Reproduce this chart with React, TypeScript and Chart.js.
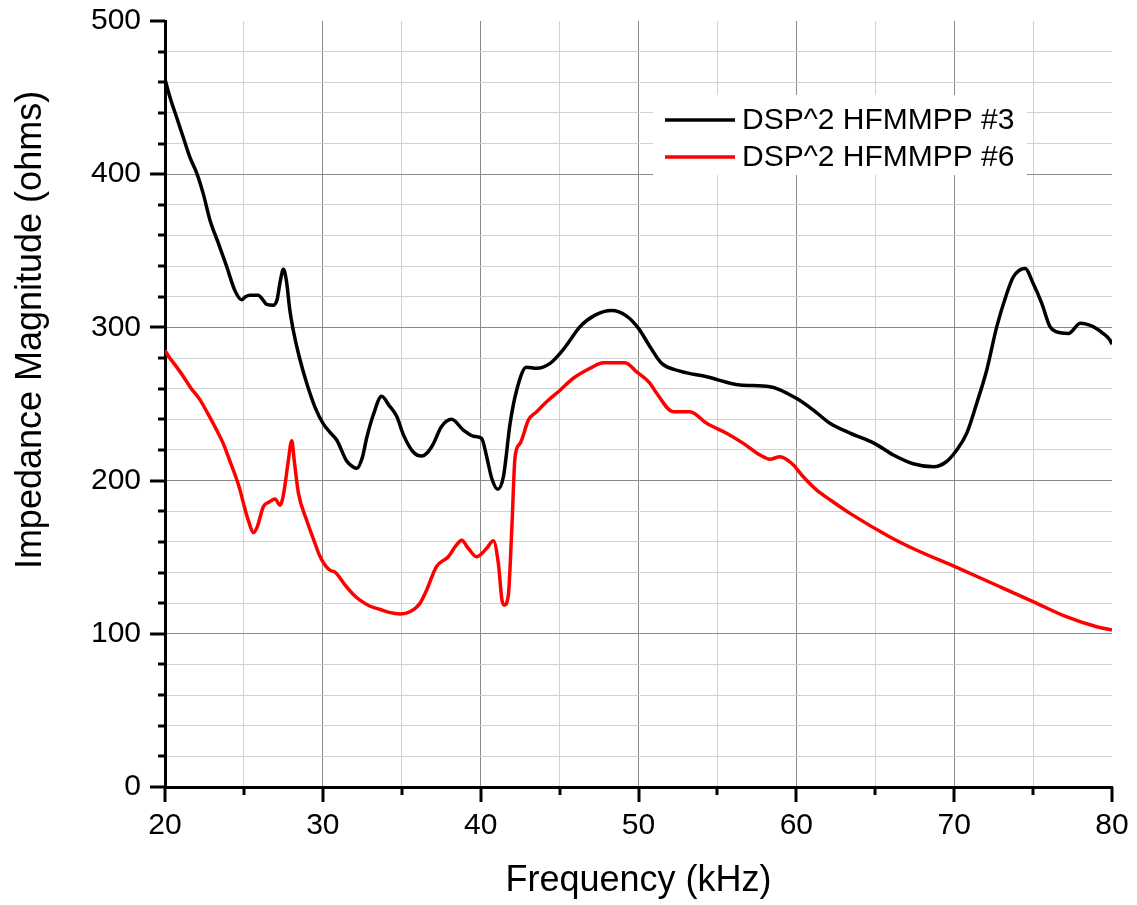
import React, { useEffect, useRef } from "react";
import { Chart, registerables } from "chart.js";

Chart.register(...registerables);

// ---- Data ----
const seriesLabels = ["DSP^2 HFMMPP #3", "DSP^2 HFMMPP #6"];

const freq3 = [
  20.0, 20.32, 20.74, 21.16, 21.58, 22.0, 22.43, 22.85, 23.38, 23.9, 24.43, 24.86, 25.1, 25.39, 25.9, 26.2,
  26.44, 26.86, 27.1, 27.3, 27.5, 27.7, 27.9, 28.13, 28.5, 28.98, 29.5, 30.03, 30.5, 30.88, 31.5, 31.9,
  32.15, 32.5, 32.78, 33.2, 33.73, 34.2, 34.68, 35.1, 35.7, 36.26, 36.6, 37.0, 37.5, 38.16, 38.9, 39.54,
  40.06, 40.38, 40.7, 41.08, 41.44, 41.86, 42.28, 42.9, 43.55, 44.4, 45.03, 45.45, 46.3, 47.25, 48.3, 49.25,
  50.0, 50.73, 51.47, 52.63, 54.32, 56.43, 58.33, 60.0, 61.08, 62.13, 63.4, 65.0, 66.15, 67.4, 68.7, 69.5,
  70.16, 70.8, 71.43, 72.06, 72.7, 73.33, 73.75, 74.49, 75.0, 75.55, 76.07, 76.5, 77.24, 78.0, 78.8, 79.45,
  79.87, 80.0,
];
const imp3 = [
  462, 450, 437, 424, 411, 401, 387, 370, 355, 340, 324, 318, 320, 321, 321, 318,
  315, 314.5, 318, 330, 338, 330, 312, 298, 281, 263.5, 248, 237, 231, 226.5, 213, 209,
  208, 215, 228, 243, 255, 249, 242, 230, 219, 216, 218, 224, 235, 240, 233, 229,
  227.6, 215.6, 201.5, 194.3, 202.5, 237, 259, 274, 273.3, 276.5, 283, 288.5, 300.5, 308, 311, 307.4,
  299.4, 287.4, 276.5, 271.5, 267.8, 262.4, 261.3, 253.7, 246, 237.4, 231, 224, 216.7, 211, 209, 212.3,
  220, 231, 250.5, 272, 300.5, 322, 333, 338.5, 328.8, 315.7, 300.5, 297, 296, 302.7, 300.5, 296,
  291.8, 289,
];

const freq6 = [
  20.0, 20.3, 20.6, 21.16, 21.6, 22.2, 22.7, 23.27, 23.7, 24.1, 24.5, 24.75, 25.0, 25.28, 25.6, 25.85,
  26.23, 26.6, 26.97, 27.29, 27.45, 27.6, 27.8, 28.03, 28.2, 28.45, 28.98, 29.4, 29.8, 30.2, 30.45, 30.8,
  31.4, 32.0, 32.35, 33.0, 33.6, 34.2, 34.9, 35.52, 36.16, 36.58, 37.2, 37.95, 38.4, 38.8, 39.2, 39.74,
  40.38, 40.8, 41.12, 41.35, 41.5, 41.75, 41.97, 42.18, 42.5, 43.03, 43.55, 44.18, 45.03, 45.87, 46.93, 47.77,
  49.15, 49.88, 50.73, 51.15, 52.2, 53.26, 54.32, 55.58, 56.64, 57.7, 58.33, 58.96, 59.7, 60.44, 61.28, 62.2,
  63.4, 65.9, 67.6, 70.05, 72.9, 75.0, 77.1, 79.03, 80.0,
];
const imp6 = [
  285, 280, 276, 268, 261, 253, 244, 233, 224, 213, 202, 194, 184, 174, 166, 170,
  183, 186, 188, 184, 188, 197, 212, 226, 212, 192, 174, 162, 151, 144, 141.6, 140,
  132, 125, 122, 118, 116, 114, 113, 114.4, 120, 128.6, 143.8, 150.3, 157, 161, 156, 150.3,
  155.8, 160.8, 146, 122, 118.8, 125, 167.8, 215.6, 224.3, 239.6, 245, 251.5, 259, 266.8, 273.3, 277,
  277, 271, 263.5, 257, 245, 245, 237.4, 230.9, 224.3, 216.7, 213.9, 215.6, 211.3, 202.5, 193.9, 187,
  178.6, 163.4, 154.7, 143.8, 130.7, 121, 111.2, 104.6, 102.5,
];

const xTickLabels = ["20", "30", "40", "50", "60", "70", "80"];
const yTickLabels = ["0", "100", "200", "300", "400", "500"];
const xTitle = "Frequency (kHz)";
const yTitle = "Impedance Magnitude (ohms)";

const FONT = "'Liberation Sans', Arial, sans-serif";

const decorPlugin = {
  id: "decor",
  afterDraw(chart: any) {
    const ctx = chart.ctx;
    const xs = chart.scales.x;
    const ys = chart.scales.y;
    const area = chart.chartArea;
    ctx.save();
    // tick marks
    ctx.strokeStyle = "#000";
    ctx.lineWidth = 3;
    ys.ticks.forEach((t: any) => {
      const py = Math.round(ys.getPixelForValue(t.value));
      const len = t.value % 100 === 0 ? 15 : 7;
      ctx.beginPath();
      ctx.moveTo(area.left - len, py);
      ctx.lineTo(area.left, py);
      ctx.stroke();
    });
    xs.ticks.forEach((t: any) => {
      const px = Math.round(xs.getPixelForValue(t.value));
      const len = t.value % 10 === 0 ? 15 : 8;
      ctx.beginPath();
      ctx.moveTo(px, area.bottom);
      ctx.lineTo(px, area.bottom + len);
      ctx.stroke();
    });
    // axis titles
    ctx.fillStyle = "#000";
    ctx.font = `36px ${FONT}`;
    ctx.textAlign = "center";
    ctx.textBaseline = "alphabetic";
    ctx.fillText(xTitle, (area.left + area.right) / 2, 891);
    ctx.save();
    ctx.translate(41, 330);
    ctx.rotate(-Math.PI / 2);
    ctx.fillText(yTitle, 0, 0);
    ctx.restore();
    // legend
    ctx.fillStyle = "#fff";
    ctx.fillRect(653, 95, 374, 80);
    const rows = [120, 157];
    chart.data.datasets.forEach((ds: any, i: number) => {
      const y = rows[i];
      ctx.strokeStyle = ds.borderColor;
      ctx.lineWidth = 3.5;
      ctx.beginPath();
      ctx.moveTo(665, y);
      ctx.lineTo(735, y);
      ctx.stroke();
      ctx.fillStyle = "#000";
      ctx.font = `30px ${FONT}`;
      ctx.textAlign = "left";
      ctx.textBaseline = "middle";
      ctx.fillText(ds.label, 742, y + 1);
    });
    ctx.restore();
  },
};

const zeroPad = (s: any) => {
  s.paddingTop = 0;
  s.paddingBottom = 0;
  s.paddingLeft = 0;
  s.paddingRight = 0;
};

export default function App() {
  const ref = useRef<HTMLCanvasElement | null>(null);
  useEffect(() => {
    if (!ref.current) return;
    const toPts = (xs: number[], ys: number[]) => xs.map((x, i) => ({ x, y: ys[i] }));
    const chart = new Chart(ref.current, {
      type: "line",
      data: {
        datasets: [
          {
            label: seriesLabels[0],
            data: toPts(freq3, imp3),
            borderColor: "#000000",
            backgroundColor: "#000000",
            borderWidth: 3.5,
            pointRadius: 0,
            cubicInterpolationMode: "monotone",
          },
          {
            label: seriesLabels[1],
            data: toPts(freq6, imp6),
            borderColor: "#ff0000",
            backgroundColor: "#ff0000",
            borderWidth: 3.5,
            pointRadius: 0,
            cubicInterpolationMode: "monotone",
          },
        ],
      },
      options: {
        responsive: false,
        animation: false,
        events: [],
        layout: { padding: { top: 21, right: 25, bottom: 0, left: 0 } },
        plugins: { legend: { display: false }, tooltip: { enabled: false }, title: { display: false } },
        scales: {
          x: {
            type: "linear",
            min: 20,
            max: 80,
            afterFit: (s: any) => {
              s.height = 118;
              zeroPad(s);
            },
            ticks: {
              stepSize: 5,
              autoSkip: false,
              maxRotation: 0,
              padding: 21,
              color: "#000",
              font: { family: FONT, size: 30 },
              callback: (v: any) => {
                const s = String(v);
                return xTickLabels.includes(s) ? s : "";
              },
            },
            grid: {
              drawTicks: false,
              lineWidth: 1,
              color: (c: any) => {
                const v = c.tick ? c.tick.value : 0;
                if (v === 80) return "rgba(0,0,0,0)";
                return v % 10 === 0 ? "#8a8a8a" : "#d2d2d2";
              },
            },
            border: { display: true, color: "#000", width: 3 },
          },
          y: {
            min: 0,
            max: 500,
            afterFit: (s: any) => {
              s.width = 165;
              zeroPad(s);
            },
            ticks: {
              stepSize: 20,
              autoSkip: false,
              padding: 24,
              color: "#000",
              font: { family: FONT, size: 30 },
              callback: (v: any) => {
                const s = String(v);
                return yTickLabels.includes(s) ? s : "";
              },
            },
            grid: {
              drawTicks: false,
              lineWidth: 1,
              color: (c: any) => {
                const v = c.tick ? c.tick.value : 0;
                if (v === 500) return "rgba(0,0,0,0)";
                return v % 100 === 0 ? "#8a8a8a" : "#d2d2d2";
              },
            },
            border: { display: true, color: "#000", width: 3 },
          },
        },
      },
      plugins: [decorPlugin],
    });
    return () => chart.destroy();
  }, []);
  return (
    <div style={{ position: "absolute", left: 0, top: 0, width: 1137, height: 905, background: "#fff" }}>
      <canvas ref={ref} width={1137} height={905} style={{ display: "block" }} />
    </div>
  );
}
